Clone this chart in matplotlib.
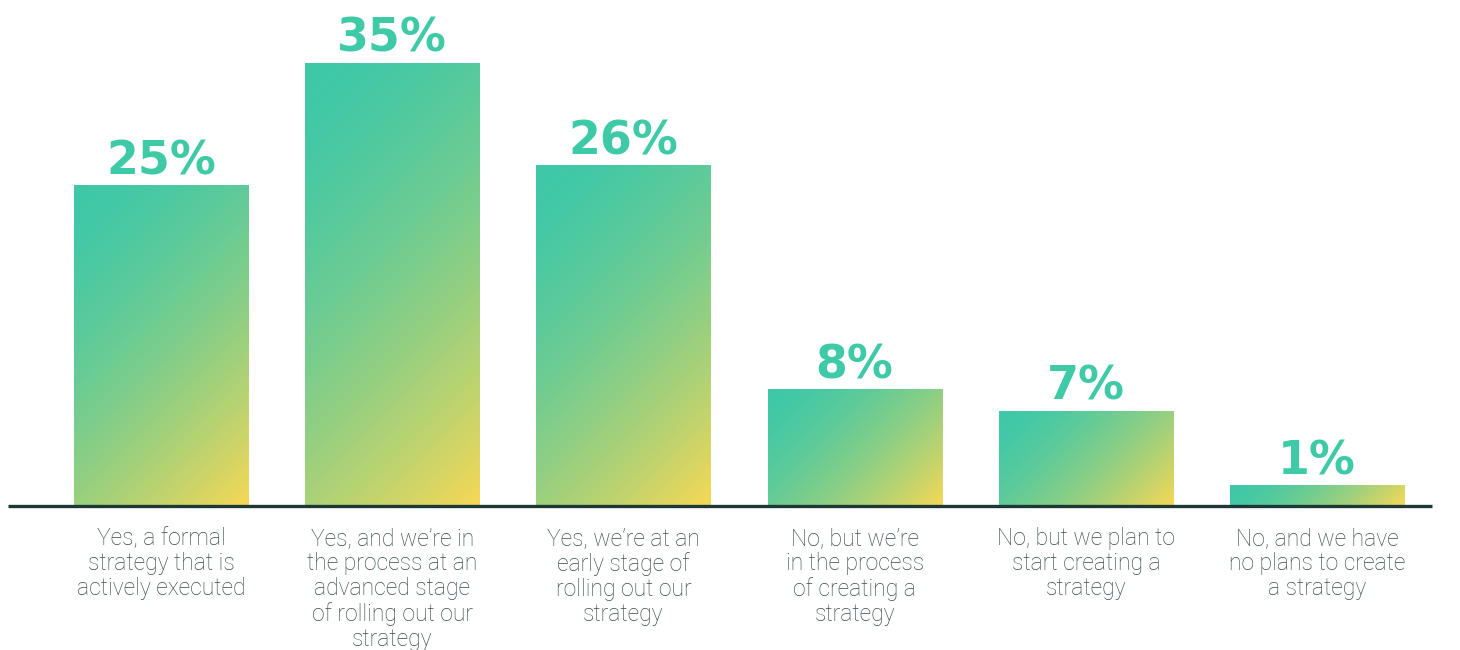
import matplotlib
matplotlib.use("Agg")
import matplotlib.pyplot as plt
import numpy as np
from matplotlib.colors import LinearSegmentedColormap

categories = [
    "Yes, a formal\nstrategy that is\nactively executed",
    "Yes, and we\u2019re in\nthe process at an\nadvanced stage\nof rolling out our\nstrategy",
    "Yes, we\u2019re at an\nearly stage of\nrolling out our\nstrategy",
    "No, but we\u2019re\nin the process\nof creating a\nstrategy",
    "No, but we plan to\nstart creating a\nstrategy",
    "No, and we have\nno plans to create\na strategy",
]
# bar heights as drawn in the picture (percent scale)
bar_heights = [25.0, 34.6, 26.6, 9.1, 7.4, 1.6]
labels = ["25%", "35%", "26%", "8%", "7%", "1%"]

TEAL = "#3EC8A8"
YELLOW = "#F7D855"
cmap = LinearSegmentedColormap.from_list("tg", [TEAL, YELLOW])

fig = plt.figure(figsize=(14.6, 6.5), dpi=100)
ax = fig.add_axes([0, 0, 1, 1])
ax.set_xlim(-0.696, 5.618)
ax.set_ylim(-11.25, 39.53)
ax.axis("off")

width = 0.753
x = np.arange(len(bar_heights))
bars = ax.bar(x, bar_heights, width=width, color="none", edgecolor="none")

for b, lab in zip(bars, labels):
    x0, y0 = b.get_x(), b.get_y()
    w, h = b.get_width(), b.get_height()
    # pixel size of the bar -> 45 degree gradient in pixel space
    p0 = ax.transData.transform((x0, y0))
    p1 = ax.transData.transform((x0 + w, y0 + h))
    wp, hp = abs(p1[0] - p0[0]), abs(p1[1] - p0[1])
    nx, ny = 200, max(20, int(hp))
    U, V = np.meshgrid(np.linspace(0, wp, nx), np.linspace(0, hp, ny))
    T = (U + V) / (wp + hp)
    G = T ** 1.6
    ax.imshow(G, cmap=cmap, vmin=0, vmax=1, origin="upper",
              extent=[x0, x0 + w, y0, y0 + h], aspect="auto", zorder=2,
              interpolation="bilinear")
    ax.annotate(lab, (x0 + w / 2, y0 + h), xytext=(0, 1), textcoords="offset points",
                ha="center", va="bottom", fontsize=33, fontweight="bold",
                color="#3EC9A7", family="DejaVu Sans", zorder=3)

ax.plot([-0.662, 5.497], [0, 0], color="#1E3838", lw=2.4, zorder=4,
        solid_capstyle="butt")

for xi, cat in zip(x, categories):
    ax.annotate(cat, (xi, 0), xytext=(0, -15), textcoords="offset points",
                ha="center", va="top", fontsize=16.5, color="#3A4A4A",
                family="Roboto", fontweight="light", linespacing=1.12)

fig.savefig("out.png", dpi=100)
